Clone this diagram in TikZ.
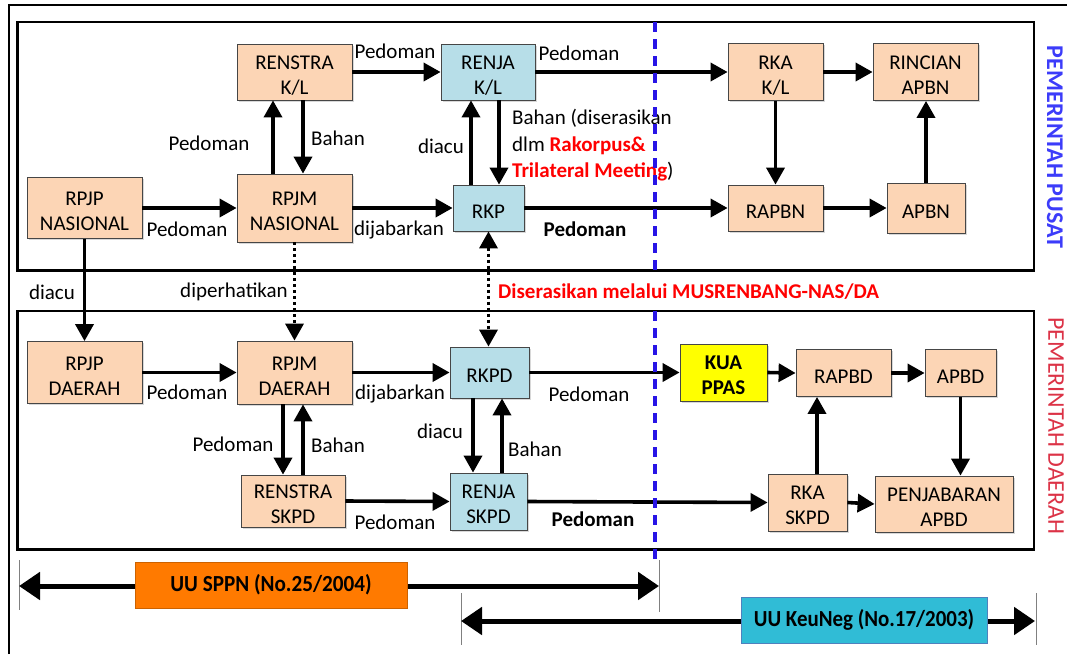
\documentclass[tikz,border=0pt]{standalone}
\usepackage{fontspec}
\setmainfont{Carlito}
\usetikzlibrary{arrows.meta,shadows}
\definecolor{peach}{RGB}{252,213,181}
\definecolor{lblue}{RGB}{183,222,232}
\definecolor{kuay}{RGB}{255,255,0}
\definecolor{uuorange}{RGB}{255,122,0}
\definecolor{uucyan}{RGB}{48,188,214}
\definecolor{uuborder}{RGB}{79,129,189}
\definecolor{pusatblue}{RGB}{60,60,250}
\definecolor{daerahred}{RGB}{220,50,70}
\definecolor{dashblue}{RGB}{40,20,230}
\definecolor{boxline}{RGB}{70,70,70}
\newcommand\twolines[2]{\rule{0pt}{20pt}#1\\#2}
\begin{document}
\begin{tikzpicture}[x=1pt,y=-1pt,
  every node/.style={font=\fontsize{21}{25}\selectfont},
  box/.style={draw=boxline, line width=0.8pt, fill=peach, inner sep=0pt, align=center,
    drop shadow={shadow xshift=1.5pt,shadow yshift=-1.5pt,opacity=0.3}},
  bbox/.style={box, fill=lblue},
  arr/.style={line width=3.6pt, -{Triangle[length=17pt,width=18pt]}},
  dotarr/.style={line width=3.4pt, dash pattern=on 3pt off 3pt, -{Triangle[length=17pt,width=18pt]}},
  dotdbl/.style={line width=3.4pt, dash pattern=on 3pt off 3pt, {Triangle[length=17pt,width=18pt]}-{Triangle[length=17pt,width=18pt]}},
  lbl/.style={inner sep=0pt},
  blbl/.style={inner sep=0pt, font=\fontsize{21}{24}\selectfont\bfseries},
  frame/.style={line width=2.7pt},
  tick/.style={gray, line width=0.7pt},
  bigarr/.style={line width=5pt, {Triangle[length=21pt,width=27pt]}-{Triangle[length=21pt,width=27pt]}},
  uubox/.style={inner sep=0pt, font=\fontsize{23}{26}\selectfont\bfseries},
  sep/.style={dashblue, line width=3.4pt, dash pattern=on 10pt off 7pt},
]
\useasboundingbox (0,0) rectangle (1067,654);
\fill[white] (0,0) rectangle (1067,654);

% frames
\draw[line width=1.8pt] (9,654) -- (9,5) -- (1067,5);
\draw[frame] (17.5,22) rectangle (1034,270.5);
\draw[frame] (17.5,311) rectangle (1034,549.5);

% top nodes
\node[box, minimum width=115pt, minimum height=56pt] (renstrakl) at (294.5,72) {\twolines{RENSTRA}{K/L}};
\node[bbox, minimum width=94pt, minimum height=56pt] (renjakl) at (488,72) {\twolines{RENJA}{K/L}};
\node[box, minimum width=95pt, minimum height=57pt] (rkakl) at (775.5,72) {\twolines{RKA}{K/L}};
\node[box, minimum width=105pt, minimum height=57pt] (rincian) at (925.5,72) {\twolines{RINCIAN}{APBN}};
\node[box, minimum width=115pt, minimum height=61pt] (rpjpn) at (84.5,208) {\twolines{RPJP}{NASIONAL}};
\node[box, minimum width=115pt, minimum height=68pt] (rpjmn) at (294.5,208) {\twolines{RPJM}{NASIONAL}};
\node[bbox, minimum width=71pt, minimum height=46pt] (rkp) at (488.5,208) {\rule{0pt}{20pt}RKP};
\node[box, minimum width=95pt, minimum height=46pt] (rapbn) at (775.5,208) {\rule{0pt}{20pt}RAPBN};
\node[box, minimum width=78pt, minimum height=50pt] (apbn) at (926,208) {\rule{0pt}{20pt}APBN};

% bottom nodes
\node[box, minimum width=115pt, minimum height=62pt] (rpjpd) at (84.5,372.5) {\twolines{RPJP}{DAERAH}};
\node[box, minimum width=115pt, minimum height=63pt] (rpjmd) at (294.5,372.5) {\twolines{RPJM}{DAERAH}};
\node[bbox, minimum width=79pt, minimum height=51pt] (rkpd) at (489.5,372.5) {\rule{0pt}{20pt}RKPD};
\node[box, fill=kuay, minimum width=87pt, minimum height=57pt, font=\fontsize{21}{25}\selectfont\bfseries] (kua) at (723.5,372.5) {\twolines{KUA}{PPAS}};
\node[box, minimum width=95pt, minimum height=47pt] (rapbd) at (843.5,373) {\rule{0pt}{20pt}RAPBD};
\node[box, minimum width=71pt, minimum height=47pt] (apbd) at (960.5,373) {\rule{0pt}{20pt}APBD};
\node[box, minimum width=104pt, minimum height=52pt] (renstraskpd) at (293,501) {\twolines{RENSTRA}{SKPD}};
\node[bbox, minimum width=77pt, minimum height=57pt] (renjaskpd) at (488.5,501.5) {\twolines{RENJA}{SKPD}};
\node[box, minimum width=79pt, minimum height=57pt] (rkaskpd) at (807.5,502.5) {\twolines{RKA}{SKPD}};
\node[box, minimum width=138pt, minimum height=56pt] (penjab) at (944,504) {\twolines{PENJABARAN}{APBD}};

% top connectors
\draw[arr] (rpjpn.east) -- (rpjmn.west);
\draw[arr] ([xshift=-21.5pt]rpjmn.north) -- ([xshift=-21.5pt]renstrakl.south);
\draw[arr] ([xshift=8.5pt]renstrakl.south) -- ([xshift=8.5pt]rpjmn.north);
\draw[arr] (renstrakl.east) -- (renjakl.west);
\draw[arr] (renjakl.east) -- (rkakl.west);
\draw[arr] (rpjmn.east) -- (rkp.west);
\draw[arr] ([xshift=-17.5pt]rkp.north) -- ([xshift=-17pt]renjakl.south);
\draw[arr] ([xshift=11pt]renjakl.south) -- ([xshift=10.5pt]rkp.north);
\draw[arr] (rkp.east) -- (rapbn.west);
\draw[arr] (rkakl.east) -- (rincian.west);
\draw[arr] (rkakl.south) -- (rapbn.north);
\draw[arr] (rapbn.east) -- (apbn.west);
\draw[arr] (apbn.north) -- (apbn.north |- rincian.south);

% between
\draw[arr] (rpjpn.south) -- (rpjpd.north);
\draw[dotarr] (rpjmn.south) -- (rpjmd.north);
\draw[dotdbl] (rkp.south) -- (rkp.south |- rkpd.north);

% bottom connectors
\draw[arr] (rpjpd.east) -- (rpjmd.west);
\draw[arr] (rpjmd.east) -- (rkpd.west);
\draw[arr] ([xshift=-11.5pt]rpjmd.south) -- ([xshift=-10pt]renstraskpd.north);
\draw[arr] ([xshift=10pt]renstraskpd.north) -- ([xshift=8.5pt]rpjmd.south);
\draw[arr] ([xshift=-16.5pt]rkpd.south) -- ([xshift=-15.5pt]renjaskpd.north);
\draw[arr] ([xshift=13.5pt]renjaskpd.north) -- ([xshift=12.5pt]rkpd.south);
\draw[arr] (renstraskpd.east) -- (renjaskpd.west);
\draw[arr] (rkpd.east) -- (kua.west);
\draw[arr] (renjaskpd.east) -- (rkaskpd.west);
\draw[arr] (kua.east) -- (rapbd.west);
\draw[arr] (rapbd.east) -- (apbd.west);
\draw[arr] (apbd.south) -- (apbd.south |- penjab.north);
\draw[arr] ([xshift=9.5pt]rkaskpd.north) -- ([xshift=-26.5pt]rapbd.south);
\draw[arr] (rkaskpd.east) -- (penjab.west);

% labels top
\node[lbl] (l1) at (395,51) {Pedoman};
\node[lbl] (l2) at (579,53) {Pedoman};
\node[lbl] (l3) at (209,143) {Pedoman};
\node[lbl] (l4) at (338,138) {Bahan};
\node[lbl] (l5) at (187,229) {Pedoman};
\node[lbl] (l6) at (399,230) {dijabarkan};
\node[lbl] (l7) at (441,146) {diacu};
\node[blbl] (l8) at (585,229) {Pedoman};
\node[lbl, anchor=north west, align=left, font=\fontsize{21}{26.5}\selectfont] (l9) at (512,109)
  {Bahan (diserasikan\\dlm {\color{red}\bfseries Rakorpus\&}\\{\color{red}\bfseries Trilateral Meeting})};

% labels between
\node[lbl] (l10) at (52,292) {diacu};
\node[lbl] (l11) at (234,292) {diperhatikan};
\node[blbl, anchor=west, text=red] (l12) at (498,292) {Diserasikan melalui MUSRENBANG-NAS/DA};

% labels bottom
\node[lbl] (l13) at (187,392) {Pedoman};
\node[lbl] (l14) at (400,394) {dijabarkan};
\node[lbl] (l15) at (233,444) {Pedoman};
\node[lbl] (l16) at (338,445) {Bahan};
\node[lbl] (l17) at (589,394) {Pedoman};
\node[lbl] (l18) at (440,431) {diacu};
\node[lbl] (l19) at (535,449) {Bahan};
\node[lbl] (l20) at (395,522) {Pedoman};
\node[blbl] (l21) at (593,519) {Pedoman};

% side labels
\node[rotate=-90, inner sep=0pt, font=\fontsize{24}{28}\selectfont\bfseries, text=pusatblue] (pusat) at (1055,147) {PEMERINTAH PUSAT};
\node[rotate=-90, inner sep=0pt, font=\fontsize{24}{28}\selectfont, text=daerahred] (daerah) at (1056,426) {PEMERINTAH DAERAH};

% blue dashed separator (interrupted between the two panels)
\draw[sep] (655,22) -- (655,271);
\draw[sep] (655,311) -- (655,566);

% bottom law arrows
\coordinate (a1) at (19,586);
\coordinate (a2) at (659,586);
\coordinate (b1) at (461,621);
\coordinate (b2) at (1035,621);
\draw[tick] (19,560) -- (19,610);
\draw[tick] (659,560) -- (659,612);
\draw[tick] (461,593) -- (461,645);
\draw[tick] (1036,593) -- (1036,645);
\draw[bigarr] (a1) -- (a2);
\draw[bigarr] (b1) -- (b2);
\node[uubox, fill=uuorange, draw=uuorange!80!black, line width=0.4pt, minimum width=272pt, minimum height=46pt] (sppn) at (271,585) {\scalebox{0.92}[1]{UU SPPN (No.25/2004)}};
\node[uubox, fill=uucyan, draw=uuborder, line width=0.6pt, minimum width=246pt, minimum height=46pt] (keuneg) at (864,620) {\scalebox{0.91}[1]{UU KeuNeg (No.17/2003)}};
\end{tikzpicture}
\end{document}
